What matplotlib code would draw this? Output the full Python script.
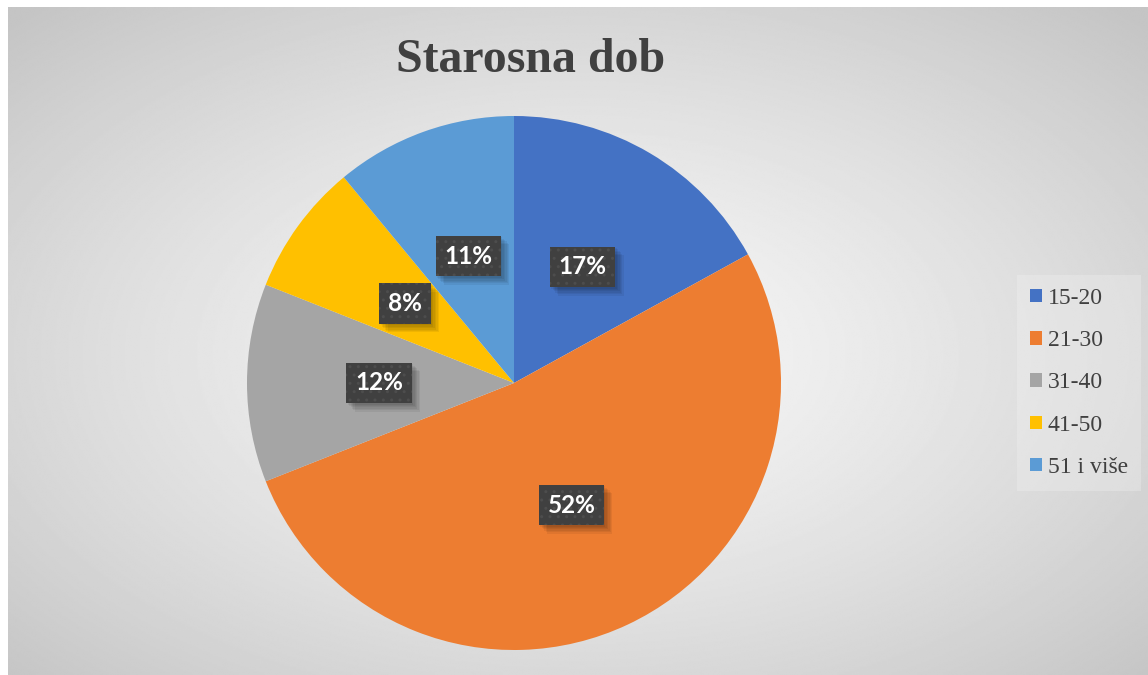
import numpy as np
import matplotlib
matplotlib.use("Agg")
import matplotlib.pyplot as plt
import matplotlib.patheffects as pe

# ---------------------------------------------------------------------------
# Data
# ---------------------------------------------------------------------------

categories = ["15-20", "21-30", "31-40", "41-50", "51 i više"]
shares = [17, 52, 12, 8, 11]
colors = ["#4472C4", "#ED7D31", "#A5A5A5", "#FFC000", "#5B9BD5"]
title = "Starosna dob"

W, H = 1148, 675
fig = plt.figure(figsize=(W / 100, H / 100), dpi=100)
fig.patch.set_facecolor("white")

# ---------------------------------------------------------------------------
# Background panel with a soft radial gradient
# ---------------------------------------------------------------------------

bg = fig.add_axes([8 / W, 0, 1 - 8 / W, 1 - 7 / H], zorder=-10)
yy, xx = np.mgrid[0:1:400j, 0:1:680j]
d = np.sqrt(((xx - 0.5) / 0.5) ** 2 + ((yy - 0.52) / 0.5) ** 2) / np.sqrt(2)
shade = 0.97 - 0.20 * np.clip(d, 0, 1) ** 1.3
bg.imshow(shade, cmap="gray", vmin=0, vmax=1, aspect="auto",
          interpolation="bilinear")
bg.set_axis_off()

# ---------------------------------------------------------------------------
# Pie
# ---------------------------------------------------------------------------

cx, cy, r = 514, 383, 267
ax = fig.add_axes([(cx - r) / W, (H - cy - r) / H, 2 * r / W, 2 * r / H])
wedges, _, autotexts = ax.pie(
    shares, colors=colors, startangle=90, counterclock=False,
    autopct="%1.0f%%", pctdistance=0.505,
    wedgeprops=dict(linewidth=0),
)
ax.set_xlim(-1, 1)
ax.set_ylim(-1, 1)
ax.set_aspect("equal")

# soft drop shadow: a few faint offset copies without the dot hatch
shadow = [pe.SimplePatchShadow(offset=(o, -o), shadow_rgbFace="black",
                               alpha=0.06, hatch=None)
          for o in (1, 2, 3, 4, 5, 6)]
for t in autotexts:
    t.set_color("white")
    t.set_fontfamily("Lato")
    t.set_fontweight("bold")
    t.set_fontsize(17.5)
    t.set_bbox(dict(boxstyle="square,pad=0.36", facecolor="#404040",
                    edgecolor="#4d4d4d", hatch="..", linewidth=0))
    t.get_bbox_patch().set_path_effects(shadow + [pe.Normal()])

# ---------------------------------------------------------------------------
# Title and legend
# ---------------------------------------------------------------------------

fig.text(531 / W, 1 - 60 / H, title, ha="center", va="center",
         fontsize=34.5, fontweight="bold", family="Liberation Serif",
         color="#404040")

leg = fig.legend(wedges, categories, loc="center left",
                 bbox_to_anchor=(1017 / W, 1 - 383 / H),
                 prop=dict(family="Liberation Serif", size=17),
                 frameon=True, fancybox=False, framealpha=0.3,
                 facecolor="#f4f4f4", edgecolor="none",
                 handlelength=0.5, handleheight=0.5, handletextpad=0.25,
                 labelspacing=0.9, borderpad=0.55, borderaxespad=0)
for txt in leg.get_texts():
    txt.set_color("#404040")

fig.savefig("out.png", dpi=100)
